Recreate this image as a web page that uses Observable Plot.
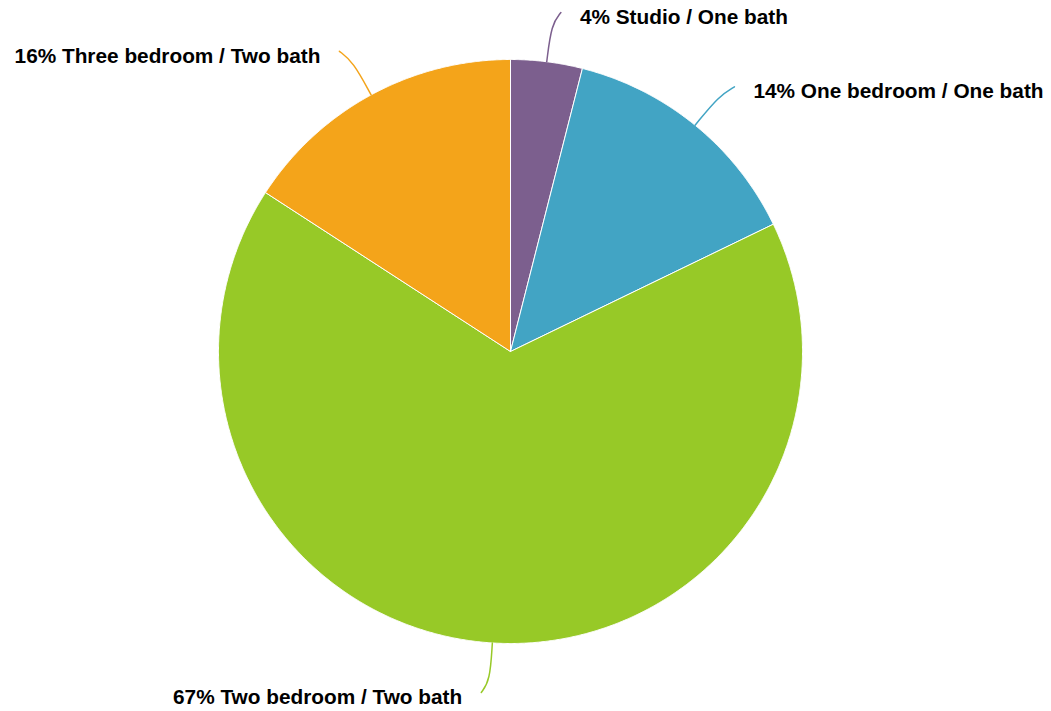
<!DOCTYPE html>
<html>
<head>
<meta charset="utf-8">
<script src="https://cdn.jsdelivr.net/npm/d3@7"></script>
<script src="https://cdn.jsdelivr.net/npm/@observablehq/plot@0.6"></script>
<style>
  html, body { margin: 0; padding: 0; background: #fff; }
  #chart { width: 1051px; height: 711px; }
</style>
</head>
<body>
<div id="chart"></div>
<script>
// Unit mix shares (percent), in clockwise order from 12 o'clock
const categories = ["Studio / One bath", "One bedroom / One bath", "Two bedroom / Two bath", "Three bedroom / Two bath"];
const shares = [4, 14, 67, 16];
const colors = ["#7c5f8e", "#42a4c4", "#97c927", "#f4a41a"];

const width = 1051, height = 711;
const R = 292;             // pie radius in plot units (1 unit = 1px)
const cx = 510, cy = 351;  // pie centre within the frame

const rows = categories.map((name, i) => ({name, share: shares[i]}));
const arcs = d3.pie().sort(null).value(d => d.share)(rows);

const polar = (a, r) => [r * Math.sin(a), r * Math.cos(a)];

// Slice outlines: centre, arc, back to centre
const slicePts = [];
arcs.forEach(a => {
  const n = Math.max(2, Math.ceil((a.endAngle - a.startAngle) / 0.004));
  slicePts.push({name: a.data.name, x: 0, y: 0});
  for (let k = 0; k <= n; ++k) {
    const t = a.startAngle + (a.endAngle - a.startAngle) * k / n;
    const [x, y] = polar(t, R);
    slicePts.push({name: a.data.name, x, y});
  }
  slicePts.push({name: a.data.name, x: 0, y: 0});
});

// Leader lines: leave the arc radially, then bend toward the label side
const leaderPts = [];
const labels = [];
arcs.forEach(a => {
  const mid = (a.startAngle + a.endAngle) / 2;
  const side = Math.sin(mid) >= 0 ? 1 : -1;
  const [x0, y0] = polar(mid, R);
  const [x1, y1] = polar(mid, R * 1.13);
  const [x2, y2] = polar(mid, R * 1.17);
  const ex = x2 + side * 8;
  leaderPts.push({name: a.data.name, x: x0, y: y0});
  leaderPts.push({name: a.data.name, x: x1, y: y1});
  leaderPts.push({name: a.data.name, x: ex, y: y2});
  labels.push({name: a.data.name, x: ex, y: y2, side, text: `${a.data.share}% ${a.data.name}`});
});

const color = {domain: categories, range: colors};

const chart = Plot.plot({
  width, height,
  margin: 0,
  x: {domain: [-cx, width - cx], axis: null},
  y: {domain: [-(height - cy), cy], axis: null},
  color,
  style: {fontFamily: "'Liberation Sans', Arial, Helvetica, sans-serif", background: "#fff"},
  marks: [
    Plot.line(slicePts, {x: "x", y: "y", z: "name", fill: "name", stroke: "#fff", strokeWidth: 1, strokeLinejoin: "round"}),
    Plot.line(leaderPts, {x: "x", y: "y", z: "name", stroke: "name", strokeWidth: 1.5, curve: "basis"}),
    Plot.text(labels.filter(d => d.side > 0), {x: "x", y: "y", text: "text", textAnchor: "start", dx: 19, dy: 5, fontSize: 20.8, fontWeight: "bold", fill: "#000"}),
    Plot.text(labels.filter(d => d.side < 0), {x: "x", y: "y", text: "text", textAnchor: "end", dx: -19, dy: 5, fontSize: 20.8, fontWeight: "bold", fill: "#000"})
  ]
});

document.getElementById("chart").appendChild(chart);
</script>
</body>
</html>
